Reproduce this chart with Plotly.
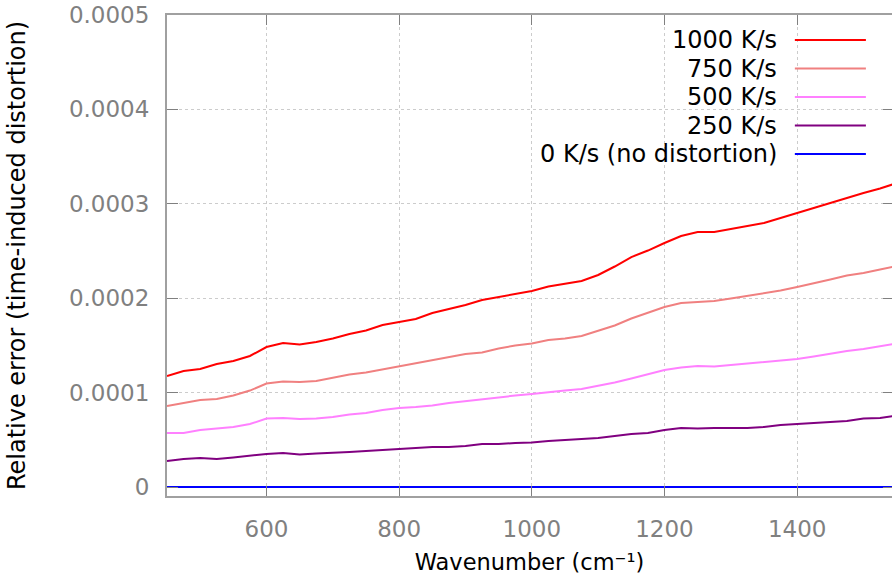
import plotly.graph_objects as go

# Wavenumber sampling grid (cm^-1)
wavenumber = [450, 475, 500, 525, 550, 575, 600, 625, 650, 675, 700, 725, 750, 775,
              800, 825, 850, 875, 900, 925, 950, 975, 1000, 1025, 1050, 1075, 1100,
              1125, 1150, 1175, 1200, 1225, 1250, 1275, 1300, 1325, 1350, 1375, 1400,
              1425, 1450, 1475, 1500, 1525, 1550]

# Relative error for each heating rate
err_1000 = [1.176e-4, 1.229e-4, 1.250e-4, 1.303e-4, 1.335e-4, 1.388e-4, 1.483e-4, 1.525e-4,
            1.510e-4, 1.536e-4, 1.573e-4, 1.621e-4, 1.658e-4, 1.716e-4, 1.748e-4, 1.780e-4,
            1.843e-4, 1.886e-4, 1.928e-4, 1.981e-4, 2.013e-4, 2.050e-4, 2.076e-4, 2.124e-4,
            2.150e-4, 2.182e-4, 2.246e-4, 2.336e-4, 2.436e-4, 2.505e-4, 2.585e-4, 2.659e-4,
            2.701e-4, 2.701e-4, 2.733e-4, 2.765e-4, 2.797e-4, 2.850e-4, 2.903e-4, 2.956e-4,
            3.008e-4, 3.067e-4, 3.114e-4, 3.162e-4, 3.220e-4]
err_750 = [0.858e-4, 0.890e-4, 0.922e-4, 0.932e-4, 0.969e-4, 1.022e-4, 1.096e-4, 1.118e-4,
           1.112e-4, 1.123e-4, 1.155e-4, 1.192e-4, 1.213e-4, 1.245e-4, 1.282e-4, 1.314e-4,
           1.345e-4, 1.377e-4, 1.409e-4, 1.425e-4, 1.467e-4, 1.499e-4, 1.520e-4, 1.557e-4,
           1.573e-4, 1.600e-4, 1.653e-4, 1.711e-4, 1.785e-4, 1.849e-4, 1.907e-4, 1.949e-4,
           1.960e-4, 1.970e-4, 1.997e-4, 2.023e-4, 2.050e-4, 2.082e-4, 2.119e-4, 2.156e-4,
           2.198e-4, 2.240e-4, 2.267e-4, 2.304e-4, 2.341e-4]
err_500 = [0.572e-4, 0.572e-4, 0.604e-4, 0.620e-4, 0.636e-4, 0.667e-4, 0.726e-4, 0.731e-4,
           0.720e-4, 0.726e-4, 0.742e-4, 0.768e-4, 0.784e-4, 0.816e-4, 0.837e-4, 0.847e-4,
           0.863e-4, 0.890e-4, 0.911e-4, 0.927e-4, 0.948e-4, 0.969e-4, 0.985e-4, 1.006e-4,
           1.022e-4, 1.038e-4, 1.070e-4, 1.107e-4, 1.149e-4, 1.197e-4, 1.239e-4, 1.266e-4,
           1.282e-4, 1.276e-4, 1.292e-4, 1.308e-4, 1.324e-4, 1.340e-4, 1.356e-4, 1.382e-4,
           1.414e-4, 1.441e-4, 1.462e-4, 1.494e-4, 1.520e-4]
err_250 = [0.275e-4, 0.297e-4, 0.307e-4, 0.297e-4, 0.313e-4, 0.334e-4, 0.350e-4, 0.360e-4,
           0.344e-4, 0.355e-4, 0.360e-4, 0.371e-4, 0.381e-4, 0.392e-4, 0.403e-4, 0.413e-4,
           0.424e-4, 0.424e-4, 0.434e-4, 0.456e-4, 0.456e-4, 0.466e-4, 0.471e-4, 0.487e-4,
           0.498e-4, 0.508e-4, 0.519e-4, 0.540e-4, 0.561e-4, 0.572e-4, 0.604e-4, 0.625e-4,
           0.620e-4, 0.625e-4, 0.625e-4, 0.625e-4, 0.636e-4, 0.657e-4, 0.667e-4, 0.678e-4,
           0.689e-4, 0.699e-4, 0.726e-4, 0.731e-4, 0.757e-4]
baseline_wn = [450, 1550]
err_0 = [0.0, 0.0]

series_names = ["1000 K/s", "750 K/s", "500 K/s", "250 K/s", "0 K/s (no distortion)"]
series_colors = ["#ff0000", "#f08080", "#ff80ff", "#800080", "#0000ff"]

x_tick_vals = [600, 800, 1000, 1200, 1400]
x_tick_text = ["600", "800", "1000", "1200", "1400"]
y_tick_vals = [0, 0.0001, 0.0002, 0.0003, 0.0004, 0.0005]
y_tick_text = ["0", "0.0001", "0.0002", "0.0003", "0.0004", "0.0005"]

X_RANGE = [450, 1543]
Y_RANGE = [-0.0000095, 0.0005]

FONT = "DejaVu Sans"
TICK_GREY = "#808080"
AXIS_GREY = "#a0a0a0"

fig = go.Figure()

curves = [(wavenumber, err_1000), (wavenumber, err_750), (wavenumber, err_500),
          (wavenumber, err_250), (baseline_wn, err_0)]
for (xs, ys), name, color in zip(curves, series_names, series_colors):
    fig.add_trace(go.Scatter(x=xs, y=ys, mode="lines", name=name,
                             line=dict(color=color, width=2), showlegend=False))

# Right-hand tick marks (no border line on that side)
fig.add_trace(go.Scatter(x=[None], y=[None], yaxis="y2", showlegend=False, hoverinfo="skip"))

# Legend: label to the left, line sample to the right
legend_top = 0.948
legend_step = 0.0593
for i, (name, color) in enumerate(zip(series_names, series_colors)):
    yy = legend_top - i * legend_step
    fig.add_annotation(x=0.844, y=yy, xref="paper", yref="paper", text=name,
                       showarrow=False, xanchor="right", yanchor="middle",
                       font=dict(family=FONT, size=24, color="black"))
    fig.add_shape(type="line", xref="paper", yref="paper", x0=0.866, x1=0.964,
                  y0=yy, y1=yy, line=dict(color=color, width=2))

# Opaque legend background hiding the grid behind it
fig.add_shape(type="rect", xref="paper", yref="paper", x0=0.408, x1=1.0, y0=0.682, y1=1.0,
              fillcolor="white", line=dict(width=0), layer="between")

axis_common = dict(showline=True, linecolor=AXIS_GREY, linewidth=2,
                   ticks="inside", tickcolor=TICK_GREY, tickwidth=1,
                   tickfont=dict(family=FONT, size=23, color=TICK_GREY),
                   showgrid=True, gridcolor="#cccccc", gridwidth=1, griddash="dot",
                   zeroline=False)

fig.update_layout(
    width=892, height=582,
    margin=dict(l=167, r=0, t=15, b=86),
    plot_bgcolor="white", paper_bgcolor="white",
    xaxis=dict(range=X_RANGE, tickvals=x_tick_vals, ticktext=x_tick_text,
               mirror="ticks", ticklen=10, ticklabelstandoff=11,
               title=dict(text="Wavenumber (cm⁻¹)", standoff=14,
                          font=dict(family=FONT, size=22.5, color="black")),
               **axis_common),
    yaxis=dict(range=Y_RANGE, tickvals=y_tick_vals, ticktext=y_tick_text,
               ticklen=11, ticklabelstandoff=11,
               title=dict(text="Relative error (time-induced distortion)", standoff=37,
                          font=dict(family=FONT, size=24, color="black")),
               **axis_common),
    yaxis2=dict(range=Y_RANGE, overlaying="y", side="right", tickvals=y_tick_vals,
                ticks="inside", ticklen=9, tickcolor=TICK_GREY, showticklabels=False,
                showgrid=False, showline=False, zeroline=False),
)

fig.write_html("out.html")
